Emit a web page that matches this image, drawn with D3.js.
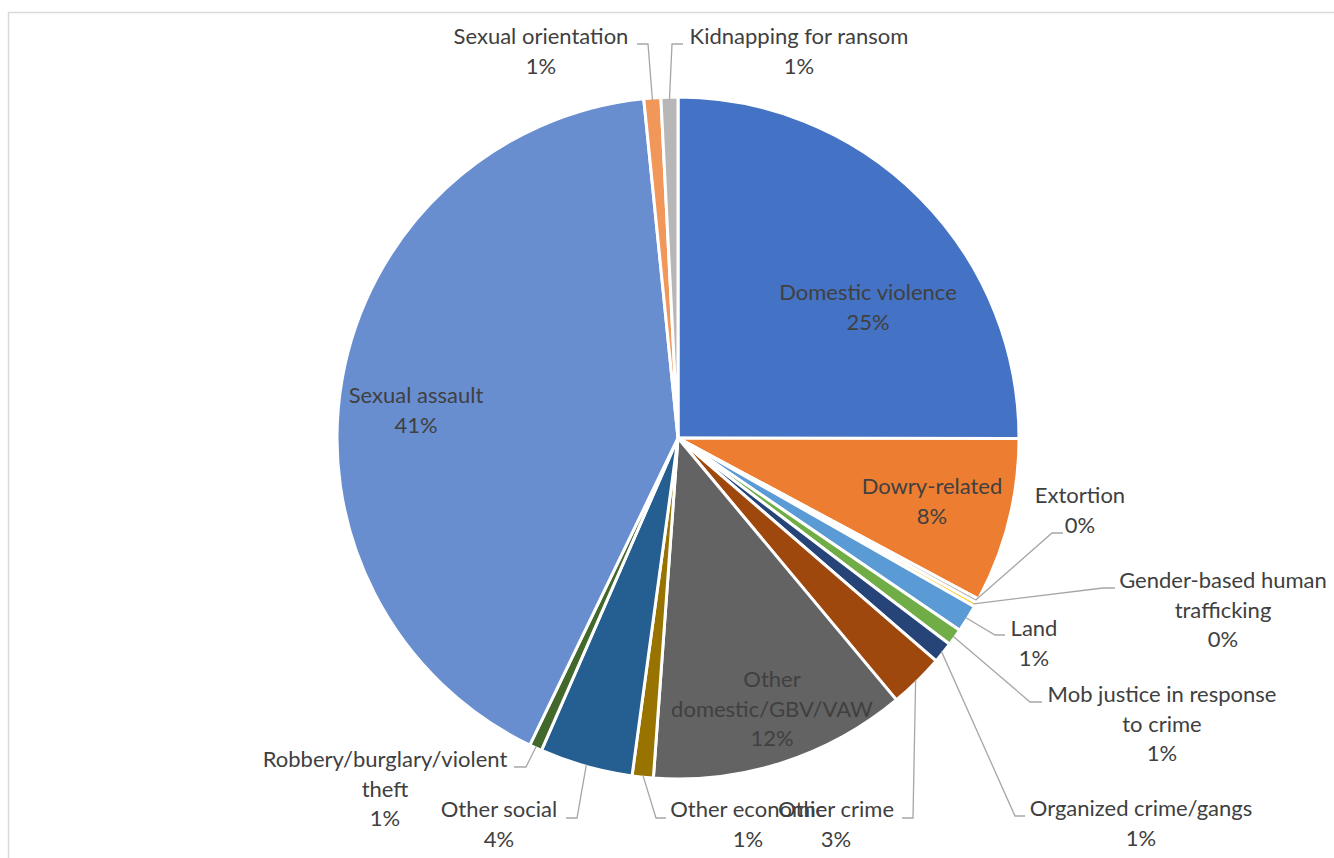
<!DOCTYPE html>
<html>
<head>
<meta charset="utf-8">
<script src="https://cdn.jsdelivr.net/npm/d3@7"></script>
<style>
  html, body { margin: 0; padding: 0; background: #fff; }
  svg { display: block; }
</style>
</head>
<body>
<svg id="chart" width="1334" height="858"></svg>
<script>
// Incident categories, in drawing order (clockwise from 12 o'clock)
const categories = [
  "Domestic violence", "Dowry-related", "Extortion", "Gender-based human trafficking",
  "Land", "Mob justice in response to crime", "Organized crime/gangs", "Other crime",
  "Other domestic/GBV/VAW", "Other economic", "Other social", "Robbery/burglary/violent theft",
  "Sexual assault", "Sexual orientation", "Kidnapping for ransom"
];
// Share of incidents (percent)
const shares = [25.0, 7.8, 0.2, 0.2, 1.3, 0.8, 1.0, 2.6, 12.2, 1.0, 4.4, 0.6, 41.2, 0.8, 0.8];
const colors = [
  "#4472C4", "#ED7D31", "#A5A5A5", "#FFC000", "#5B9BD5", "#70AD47", "#264478", "#9E480E",
  "#636363", "#997300", "#255E91", "#43682B", "#698ED0", "#F1975A", "#B7B7B7"
];
// Label text lines (category name wrapped as displayed)
const labelLines = [
  ["Domestic violence"], ["Dowry-related"], ["Extortion"], ["Gender-based human", "trafficking"],
  ["Land"], ["Mob justice in response", "to crime"], ["Organized crime/gangs"], ["Other crime"],
  ["Other", "domestic/GBV/VAW"], ["Other economic"], ["Other social"], ["Robbery/burglary/violent", "theft"],
  ["Sexual assault"], ["Sexual orientation"], ["Kidnapping for ransom"]
];
// Label placement: centre x, first-line y, and leader line bend/end points (null = inside slice)
const labelPos = [
  {x: 868, y: 294, leader: null},
  {x: 932, y: 488, leader: null},
  {x: 1080, y: 497, leader: [[1052, 533], [1063, 533]]},
  {x: 1223, y: 582, leader: [[1103, 588], [1115, 588]]},
  {x: 1034, y: 630, leader: [[995, 635], [1005, 635]]},
  {x: 1162, y: 696, leader: [[1030, 702], [1042, 702]]},
  {x: 1141, y: 810, leader: [[1015, 816], [1025, 816]]},
  {x: 836, y: 811, leader: [[913, 818], [902, 818]]},
  {x: 772, y: 681, leader: null},
  {x: 748, y: 811, leader: [[656, 818], [666, 818]]},
  {x: 499, y: 811, leader: [[577, 818], [566, 818]]},
  {x: 385, y: 761, leader: [[526, 767], [514, 767]]},
  {x: 416, y: 397, leader: null},
  {x: 541, y: 38, leader: [[648, 44], [637, 44]]},
  {x: 799, y: 38, leader: [[672, 44], [683, 44]]}
];

const svg = d3.select("#chart");
const cx = 678, cy = 438, radius = 341;
const lineH = 29.5;

// chart area border
svg.append("rect")
  .attr("x", 8.5).attr("y", 12.5)
  .attr("width", 1340).attr("height", 860)
  .attr("fill", "none").attr("stroke", "#d9d9d9").attr("stroke-width", 1.5);

const data = categories.map((c, i) => ({name: c, value: shares[i], i}));
const total = d3.sum(shares);
const pct = d3.format(".0%");

const pie = d3.pie().value(d => d.value).sort(null);
const arcs = pie(data);
const arc = d3.arc().innerRadius(0).outerRadius(radius);

const g = svg.append("g").attr("transform", `translate(${cx},${cy})`);

g.selectAll("path.slice")
  .data(arcs)
  .join("path")
  .attr("class", "slice")
  .attr("d", arc)
  .attr("fill", d => colors[d.data.i])
  .attr("stroke", "#fff")
  .attr("stroke-width", 3)
  .attr("stroke-linejoin", "round");

// leader lines from slice edge to label
const leaders = svg.append("g");
arcs.forEach(d => {
  const p = labelPos[d.data.i];
  if (!p.leader) return;
  const mid = (d.startAngle + d.endAngle) / 2;
  const r0 = radius - 2;
  const start = [cx + r0 * Math.sin(mid), cy - r0 * Math.cos(mid)];
  leaders.append("polyline")
    .attr("points", [start, ...p.leader].map(q => q.join(",")).join(" "))
    .attr("fill", "none")
    .attr("stroke", "#a6a6a6")
    .attr("stroke-width", 1.3);
});

// labels: category name plus rounded percentage
const labels = svg.append("g")
  .attr("font-family", "Lato, 'Open Sans', sans-serif")
  .attr("font-size", 22)
  .attr("fill", "#404040")
  .attr("text-anchor", "middle");

arcs.forEach(d => {
  const p = labelPos[d.data.i];
  const lines = labelLines[d.data.i].concat([pct(d.data.value / total)]);
  const t = labels.append("text")
    .attr("x", p.x).attr("y", p.y)
    .attr("dominant-baseline", "middle");
  lines.forEach((ln, k) => {
    t.append("tspan").attr("x", p.x).attr("y", p.y + k * lineH).text(ln);
  });
});
</script>
</body>
</html>
